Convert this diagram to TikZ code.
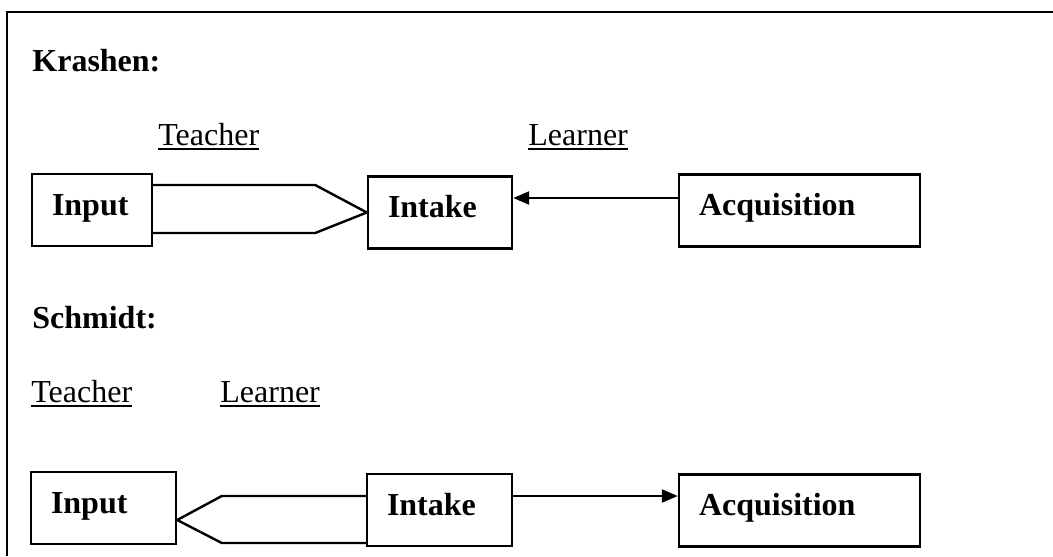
\documentclass[tikz,border=0pt]{standalone}
\usepackage{fontspec}
\setmainfont{Liberation Serif}
\usetikzlibrary{arrows.meta,calc}
% underline a bit heavier than \underline
\newcommand{\undl}[1]{\setbox0\hbox{#1}\rlap{\rule[-2.5pt]{\wd0}{1.1pt}}\box0}
\tikzset{
  box/.style={draw, line width=1.2pt, font=\fontsize{16}{19}\selectfont\bfseries,
    align=left, inner xsep=10pt, inner ysep=0pt, minimum height=36pt,
    text height=10.5pt, text depth=5.5pt},
  head/.style={font=\fontsize{16}{19}\selectfont\bfseries, anchor=base west, inner sep=0pt},
  role/.style={font=\fontsize{16}{19}\selectfont, anchor=base west, inner sep=0pt},
  fat/.style={line width=1.2pt, line join=miter},
  arr/.style={line width=1.1pt, -{Triangle[length=8pt,width=6.5pt]}},
}
\begin{document}
\begin{tikzpicture}[x=0.5pt,y=-0.5pt]
  \useasboundingbox (0,0) rectangle (1053,556);
  % frame
  \draw[line width=1.2pt] (1053,12) -- (7,12) -- (7,556);

  % Krashen
  \node[head] (krashen) at (32,72) {Krashen:};
  \node[role] (teachA) at (158,145) {\undl{Teacher}};
  \node[role] (learnA) at (528,145) {\undl{Learner}};
  \node[box, text width=40pt] (inputA) at (92,210) {Input};
  \node[box, text width=52pt] (intakeA) at (440,212.5) {Intake};
  \node[box, text width=100.5pt] (acqA) at (799.5,210.5) {Acquisition};
  \draw[fat] ($(inputA.east)+(0,-25)$) -- ++(162,0) -- (intakeA.west)
    -- ($(inputA.east)+(162,23)$) -- ($(inputA.east)+(0,23)$);
  \draw[arr] ($(acqA.west)+(0,-12.5)$) coordinate (k) -- (k -| intakeA.east);

  % Schmidt
  \node[head] (schmidt) at (32,328) {Schmidt:};
  \node[role] (teachB) at (31,402) {\undl{Teacher}};
  \node[role] (learnB) at (220,402) {\undl{Learner}};
  \node[box, text width=52.5pt] (inputB) at (103.5,508) {Input};
  \node[box, text width=52.5pt] (intakeB) at (439.5,510) {Intake};
  \node[box, text width=100.5pt] (acqB) at (799.5,510.5) {Acquisition};
  \draw[fat] ($(intakeB.west)+(0,-14)$) -- ++(-144,0) -- ($(inputB.east)+(0,12)$)
    -- ($(intakeB.west)+(-144,33)$) -- ($(intakeB.west)+(0,33)$);
  \draw[arr] ($(intakeB.east)+(0,-14)$) coordinate (s) -- (s -| acqB.west);
\end{tikzpicture}
\end{document}
